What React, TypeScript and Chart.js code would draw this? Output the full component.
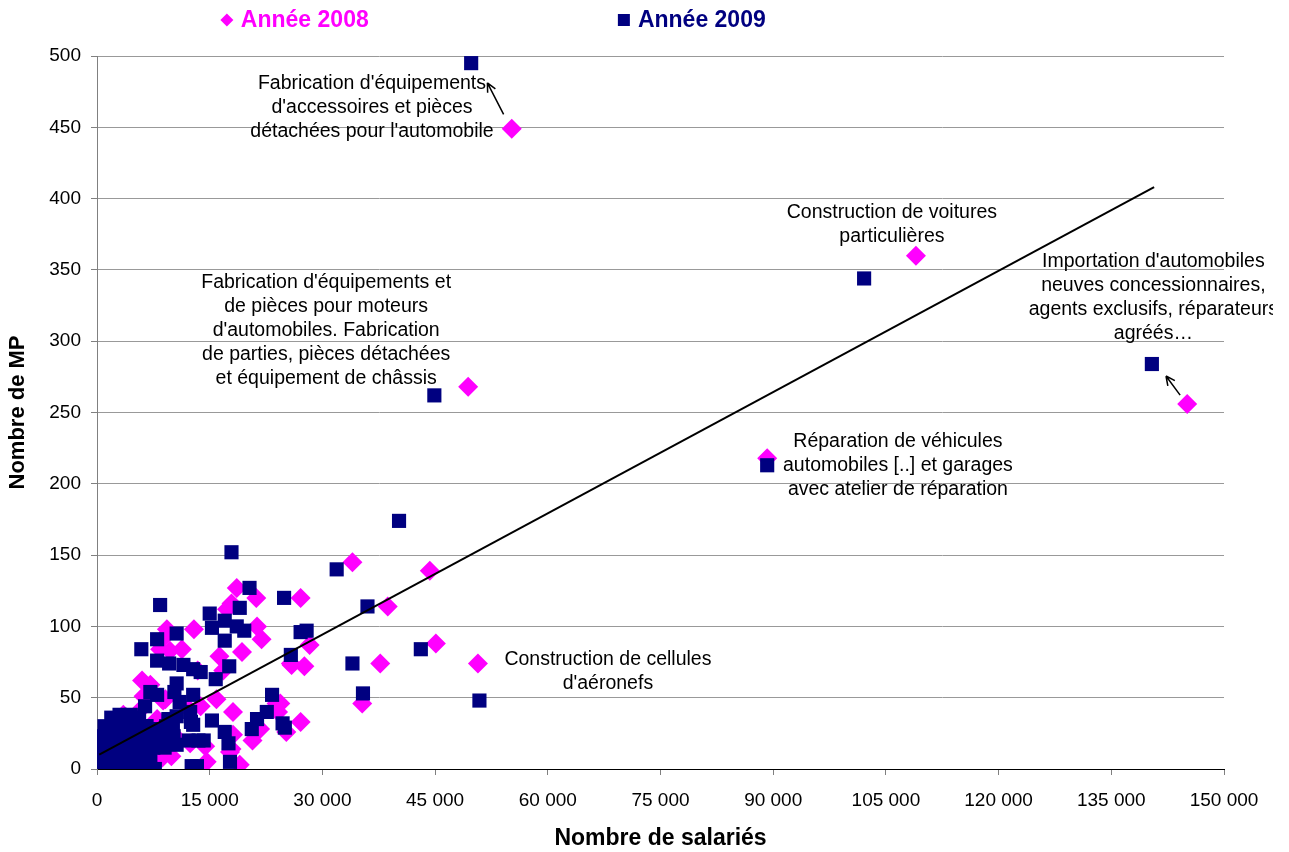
import React, { useEffect, useRef } from 'react';
import { Chart, registerables } from 'chart.js';

Chart.register(...registerables);

const FONT = '"Liberation Sans", Arial, sans-serif';

// ---- Data (Nombre de salariés, Nombre de MP) ----
const seriesNames = ['Année 2008', 'Année 2009'];
const seriesColors = ['#FF00FF', '#000080'];

const x2008 = [
  55200, 109000, 145100, 49400, 89200, 44300, 34000, 38700, 45100, 50700, 37700, 35300,
  27100, 27600, 28300, 25800, 27100, 25200, 24400, 25900,
  18600, 21200, 17300, 17900, 21300, 21900, 12900, 9300, 11300, 9700, 8400, 16300, 19300,
  13400, 16800, 7100, 6200, 8800, 15900, 13800, 18100, 3500, 23900, 24100, 21700, 20700,
  19000, 14600, 17900, 6000, 9100, 12200, 10400, 12400, 9900, 5700, 1700, 14400, 18100,
  17700, 9000, 6600, 8700, 6700,
  8000, 7500, 1500, 5500, 2000
];
const y2008 = [
  449, 360, 256, 268, 218, 139, 145, 114, 88, 74, 74, 46,
  120, 72, 87, 74, 33, 26, 46, 73,
  127, 120, 112, 116, 100, 91, 98, 98, 84, 83, 84, 79, 82,
  69, 69, 59, 51, 48, 49, 44, 40, 38, 46, 40, 28, 20,
  3, 5, 14, 62, 49, 42, 23, 18, 9, 3, 0, 16, 24,
  12, 93, 12, 8, 0,
  35, 8, 22, 40, 4
];

const x2009 = [
  49800, 102100, 140400, 44900, 89200, 40200, 50900, 31900, 36000, 34000, 35400, 43100,
  25800, 24900, 27100, 27900, 23300, 22600, 21300, 20600, 24700, 25000,
  17900, 20300, 19000, 8400, 15000, 17000, 15300, 18600, 19600, 17000, 10600, 8000, 5900,
  8000, 9600, 11500, 13800, 15800, 17600, 7100, 8000, 12800, 6400, 11000, 12400, 9500,
  10600, 10300, 12800, 15300, 12500, 10600, 10100, 17000, 17500, 17700, 7700, 12600, 13300,
  10200, 8800, 10600, 12200, 12800, 14200, 13500,
  200, 400, 800, 1000, 1200, 1500, 1700, 1800, 2000, 2000, 2300, 2500, 2600, 2800, 3000,
  3000, 3300, 3500, 3700, 3900, 4000, 4200, 4300, 4500, 4700, 4800, 5000, 5200, 5300, 5500,
  5600, 5800, 6000, 6200, 6500, 6500, 6800, 7000, 7200, 7500, 8200, 8500, 9000, 9200, 500,
  1000, 600, 3000, 4500, 5500, 2000,
  700, 2200, 3600, 5000, 6400,
  300, 1500, 2900, 4300, 5700, 7100,
  600, 2100, 3400, 4800, 6100, 7600,
  400, 1800, 3200, 4600, 6000, 7300,
  1000, 2400, 3800, 5200, 6600,
  1900, 3100, 4400, 5600
];
const y2009 = [
  495, 344, 284, 262, 213, 174, 48, 140, 114, 74, 53, 84,
  80, 120, 96, 97, 52, 40, 35, 28, 32, 29,
  152, 127, 113, 115, 109, 104, 99, 100, 97, 90, 95, 91, 84,
  76, 74, 73, 68, 63, 72, 54, 52, 70, 44, 47, 40, 35,
  60, 54, 52, 34, 33, 37, 31, 26, 18, 5, 0, 2, 2,
  23, 24, 17, 20, 31, 20, 20,
  0, 3, 14, 5, 20, 10, 19, 2, 8, 25, 28, 15, 33, 12, 5,
  20, 30, 25, 14, 3, 18, 34, 3, 22, 28, 8, 12, 2, 30, 20,
  26, 5, 25, 14, 18, 30, 10, 28, 22, 15, 20, 28, 15, 30, 1,
  15, 8, 38, 38, 36, 35,
  2, 2, 2, 2, 2,
  9, 9, 9, 9, 9, 9,
  16, 16, 16, 16, 16, 16,
  23, 23, 23, 23, 23, 23,
  30, 30, 30, 30, 30,
  36, 36, 36, 36
];

// Trend line end points
const trendX = [300, 140700];
const trendY = [10, 408];

// Axis ticks
const xMin = 0, xMax = 150000, xStep = 15000;
const yMin = 0, yMax = 500, yStep = 50;
const xTitle = 'Nombre de salariés';
const yTitle = 'Nombre de MP';

// Annotations: text lines anchored at (x value, y value of first line)
const annotationTexts = [
  ["Fabrication d'équipements", "d'accessoires et pièces", "détachées pour l'automobile"],
  ['Construction de voitures', 'particulières'],
  ["Fabrication d'équipements et", 'de pièces pour moteurs', "d'automobiles. Fabrication", 'de parties, pièces détachées', 'et équipement de châssis'],
  ["Importation d'automobiles", 'neuves concessionnaires,', 'agents exclusifs, réparateurs', 'agréés…'],
  ['Réparation de véhicules', 'automobiles [..] et garages', 'avec atelier de réparation'],
  ['Construction de cellules', "d'aéronefs"],
];
const annotationX = [36600, 105800, 30500, 140600, 106600, 68000];
const annotationY = [480.5, 390, 340.8, 355.5, 229.3, 76.4];

// Arrows: from 2008 point towards 2009 point
const arrowFrom = [[55200, 449], [145100, 256]];
const arrowTo = [[49800, 495], [140400, 284]];

const fmt = (v: number) => String(v).replace(/\B(?=(\d{3})+(?!\d))/g, ' ');

const annotationPlugin = {
  id: 'annotationPlugin',
  afterDatasetsDraw(chart: any) {
    const { ctx, scales } = chart;
    const xs = scales.x, ys = scales.y;
    ctx.save();
    ctx.beginPath();
    ctx.rect(0, 0, chart.width - 16, chart.height);
    ctx.clip();
    ctx.font = `19.5px ${FONT}`;
    ctx.fillStyle = '#000';
    ctx.textAlign = 'center';
    ctx.textBaseline = 'middle';
    annotationTexts.forEach((lines, i) => {
      const px = xs.getPixelForValue(annotationX[i]);
      const py = ys.getPixelForValue(annotationY[i]);
      lines.forEach((l, j) => ctx.fillText(l, px, py + j * 24));
    });
    ctx.restore();

    ctx.save();
    ctx.strokeStyle = '#000';
    ctx.lineWidth = 1.5;
    arrowFrom.forEach((from, i) => {
      const to = arrowTo[i];
      const ax = xs.getPixelForValue(from[0]), ay = ys.getPixelForValue(from[1]);
      const bx = xs.getPixelForValue(to[0]), by = ys.getPixelForValue(to[1]);
      const sx = ax + (bx - ax) * 0.2, sy = ay + (by - ay) * 0.22;
      const ex = ax + (bx - ax) * 0.6, ey = ay + (by - ay) * 0.7;
      ctx.beginPath();
      ctx.moveTo(sx, sy);
      ctx.lineTo(ex, ey);
      const ang = Math.atan2(ey - sy, ex - sx);
      const hl = 10;
      ctx.moveTo(ex, ey);
      ctx.lineTo(ex - hl * Math.cos(ang - 0.45), ey - hl * Math.sin(ang - 0.45));
      ctx.moveTo(ex, ey);
      ctx.lineTo(ex - hl * Math.cos(ang + 0.45), ey - hl * Math.sin(ang + 0.45));
      ctx.stroke();
    });
    ctx.restore();
  },
};

const legendPlugin = {
  id: 'customLegend',
  afterDraw(chart: any) {
    const { ctx } = chart;
    const itemX = [0.176, 0.484];
    const cy = 20;
    ctx.save();
    ctx.font = `bold 23px ${FONT}`;
    ctx.textBaseline = 'middle';
    ctx.textAlign = 'left';
    seriesNames.forEach((name, i) => {
      const mx = chart.width * itemX[i];
      ctx.fillStyle = seriesColors[i];
      ctx.beginPath();
      if (i === 0) {
        ctx.moveTo(mx - 6.5, cy);
        ctx.lineTo(mx, cy - 6.5);
        ctx.lineTo(mx + 6.5, cy);
        ctx.lineTo(mx, cy + 6.5);
        ctx.closePath();
      } else {
        ctx.rect(mx - 6, cy - 6, 12, 12);
      }
      ctx.fill();
      ctx.fillText(name, mx + 14, cy + 1);
    });
    ctx.restore();
  },
};

export default function App() {
  const ref = useRef<HTMLCanvasElement | null>(null);

  useEffect(() => {
    if (!ref.current) return;
    Chart.defaults.font.family = FONT;
    const d2008 = x2008.map((x, i) => ({ x, y: y2008[i] }));
    const d2009 = x2009.map((x, i) => ({ x, y: y2009[i] }));
    const trend = trendX.map((x, i) => ({ x, y: trendY[i] }));

    const chart = new Chart(ref.current, {
      type: 'scatter',
      data: {
        datasets: [
          {
            label: seriesNames[0],
            data: d2008,
            pointStyle: 'rectRot',
            pointRadius: 10,
            pointHoverRadius: 10,
            backgroundColor: seriesColors[0],
            borderColor: seriesColors[0],
            borderWidth: 0,
            order: 2,
          },
          {
            label: seriesNames[1],
            data: d2009,
            pointStyle: 'rect',
            pointRadius: 10,
            pointHoverRadius: 10,
            backgroundColor: seriesColors[1],
            borderColor: seriesColors[1],
            borderWidth: 0,
            order: 1,
          },
          {
            type: 'line',
            label: 'Tendance',
            data: trend,
            showLine: true,
            pointRadius: 0,
            borderColor: '#000',
            borderWidth: 2,
            fill: false,
            order: 0,
          } as any,
        ],
      },
      options: {
        responsive: false,
        animation: false,
        devicePixelRatio: 1,
        layout: { padding: { left: 0, top: 56, right: 65, bottom: 0 } },
        plugins: {
          legend: { display: false },
          tooltip: { enabled: false },
        },
        scales: {
          x: {
            type: 'linear',
            min: xMin,
            max: xMax,
            ticks: {
              stepSize: xStep,
              color: '#000',
              font: { size: 19, family: FONT },
              padding: 14,
              maxRotation: 0,
              callback: (v: any) => fmt(Number(v)),
            },
            grid: { drawOnChartArea: false, drawTicks: true, tickLength: 6, color: '#808080' },
            border: { color: '#000', width: 1 },
            title: {
              display: true,
              text: xTitle,
              color: '#000',
              font: { size: 23, weight: 'bold', family: FONT },
              padding: { top: 0, bottom: 0 },
            },
            afterFit: (s: any) => { s.height = 83; },
          },
          y: {
            type: 'linear',
            min: yMin,
            max: yMax,
            ticks: {
              stepSize: yStep,
              color: '#000',
              font: { size: 19, family: FONT },
              padding: 10,
            },
            grid: { color: '#999999', tickLength: 6, tickColor: '#808080' },
            border: { color: '#808080', width: 1 },
            title: {
              display: true,
              text: yTitle,
              color: '#000',
              font: { size: 22, weight: 'bold', family: FONT },
              padding: { top: 5, bottom: 0 },
            },
            afterFit: (s: any) => { s.width = 97; },
          },
        },
      },
      plugins: [annotationPlugin, legendPlugin],
    });
    return () => chart.destroy();
  }, []);

  return (
    <div style={{ position: 'fixed', left: 0, top: 0, width: 1289, height: 852, background: '#fff' }}>
      <canvas ref={ref} width={1289} height={852} style={{ width: 1289, height: 852, display: 'block' }} />
    </div>
  );
}
